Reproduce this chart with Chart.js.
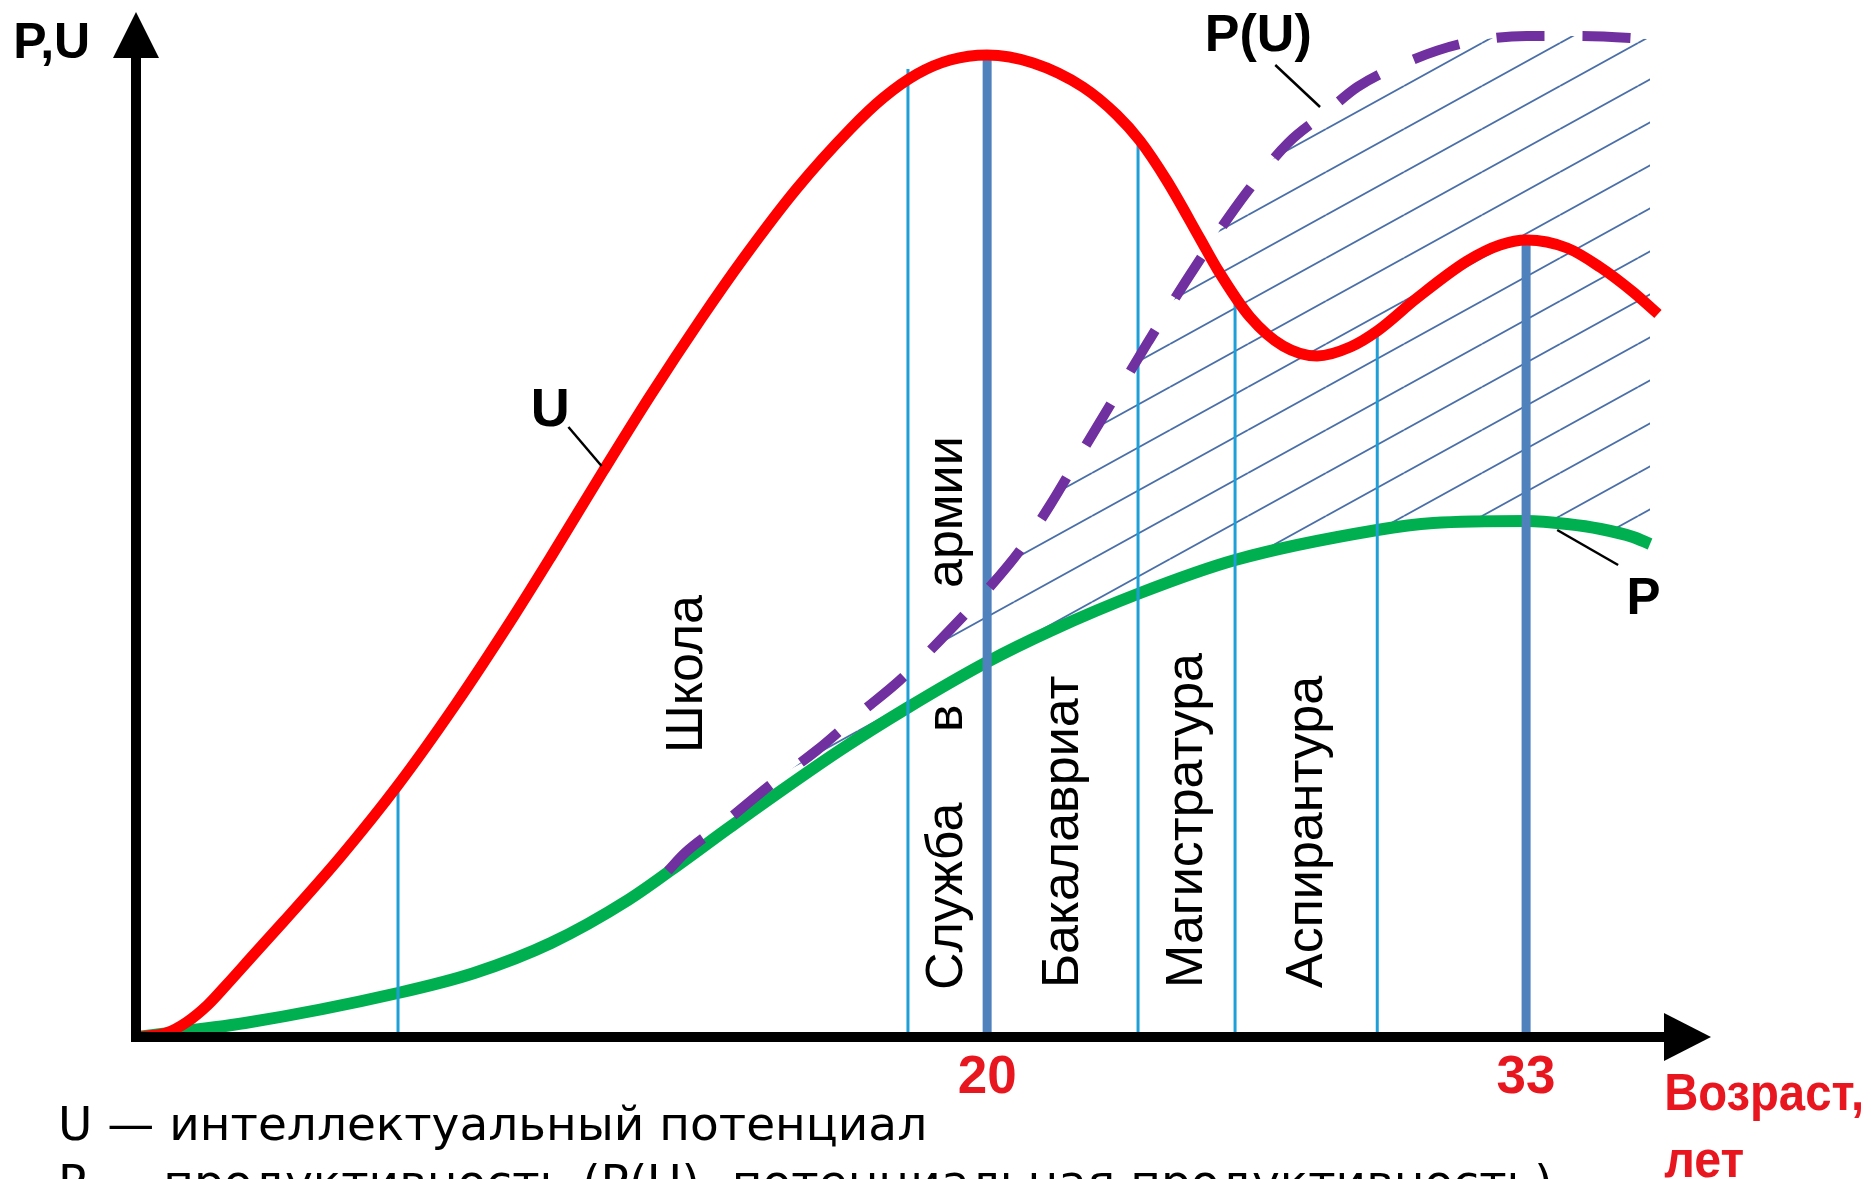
<!DOCTYPE html>
<html>
<head>
<meta charset="utf-8">
<script src="https://cdn.jsdelivr.net/npm/chart.js@4.4.1/dist/chart.umd.min.js"></script>
<style>
  html, body { margin: 0; padding: 0; background: #ffffff; overflow: hidden; }
  #wrap { position: relative; width: 1871px; height: 1179px; }
  #c { position: absolute; left: 0; top: 0; }
  .legend { position: absolute; left: 58px; top: 1095px; font-family: "DejaVu Sans", sans-serif;
            font-size: 47px; line-height: 58px; color: #000; white-space: nowrap; }
</style>
</head>
<body>
<div id="wrap">
  <canvas id="c" width="1871" height="1179"></canvas>
  <div class="legend">U — интеллектуальный потенциал<br>P — продуктивность (P(U)- потенциальная продуктивность)</div>
</div>
<script>
// ---------------- DATA (age in years, relative level) ----------------
const X_MIN = -0.53;
const X_MAX = 37.46;
const Y_MAX = 102.5;

const TICK_AGES = [20, 33];

// U — intellectual potential (red)
const U_AGES   = [-0.53, 0.20, 0.70, 1.20, 1.65, 2.30, 3.02, 4.40, 5.79, 7.17, 8.57, 9.46, 10.74, 11.87, 13.08, 14.11, 15.40, 16.70, 17.49, 18.31, 19.11, 20.00, 21.11, 22.31, 23.13, 23.69, 24.34, 25.14, 25.55, 26.34, 27.14, 27.96, 28.76, 29.41, 30.37, 31.58, 32.37, 33.02, 33.99, 34.78, 35.58, 36.18];
const U_VALUES = [0, 0.4, 1.5, 3.2, 5.2, 8.2, 11.5, 18.0, 25.2, 33.2, 42.0, 47.9, 56.6, 64.1, 71.7, 77.8, 84.8, 90.8, 93.9, 96.3, 97.7, 98.2, 97.4, 95.0, 92.2, 89.6, 85.6, 79.8, 76.8, 72.0, 69.1, 68.1, 69.0, 70.6, 73.9, 77.6, 79.2, 79.7, 78.9, 77.0, 74.5, 72.3];

// P — productivity (green)
const P_AGES   = [-0.53, 2.10, 5.79, 7.63, 9.48, 11.34, 12.71, 13.80, 16.46, 18.07, 20.00, 21.52, 23.69, 25.98, 29.41, 30.76, 33.02, 33.99, 34.80, 35.58, 35.99];
const P_VALUES = [0, 1.4, 4.4, 6.4, 9.4, 13.7, 17.7, 21.0, 28.7, 32.9, 37.5, 40.6, 44.4, 47.7, 50.7, 51.4, 51.6, 51.3, 50.8, 50.0, 49.3];

// P(U) — potential productivity (purple, dashed)
const PU_AGES   = [12.30, 12.71, 13.68, 14.77, 15.90, 16.94, 17.90, 18.94, 20.00, 20.80, 21.52, 22.24, 23.04, 23.88, 25.00, 26.25, 27.26, 28.16, 28.93, 29.96, 31.41, 33.02, 34.23, 36.40];
const PU_VALUES = [16.6, 18.4, 21.5, 25.2, 28.7, 32.4, 35.7, 40.0, 44.7, 48.7, 53.2, 58.2, 63.7, 69.5, 76.9, 84.4, 89.4, 92.4, 95.0, 97.2, 99.3, 100.1, 100.1, 99.7];

// stage boundaries: age and the level where the line meets U
const STAGE_AGES = [5.79, 18.09, 20, 23.64, 25.98, 29.41, 33];
const STAGE_TOPS = [25.2, 96.8, 98.2, 89.8, 73.9, 70.6, 79.7];

// stage names
const STAGE_TEXTS = ['Школа', 'Служба', 'в', 'армии', 'Бакалавриат', 'Магистратура', 'Аспирантура'];

// ---------------- LAYOUT / STYLE (kept apart from data) ----------------
const STAGE_TEXT_POS = [[13.13, 28.4], [19.40, 4.7], [19.40, 30.5], [19.40, 44.9], [22.19, 4.9], [25.18, 4.9], [28.08, 4.9]];

const zip = (xs, ys) => xs.map((x, i) => ({ x: x, y: ys[i] }));

function makeHatch() {
  const W = 78, H = 43;
  const c = document.createElement('canvas');
  c.width = W; c.height = H;
  const g = c.getContext('2d');
  g.strokeStyle = '#4a6fa8';
  g.lineWidth = 1.8;
  for (const k of [0, 1, 2]) {
    g.beginPath();
    g.moveTo(0, k * H);
    g.lineTo(W, (k - 1) * H);
    g.stroke();
  }
  return document.getElementById('c').getContext('2d').createPattern(c, 'repeat');
}

const stageSets = STAGE_AGES.map((a, i) => {
  const major = TICK_AGES.includes(a);
  return {
    label: 'stage' + i,
    data: [{ x: a, y: 0 }, { x: a, y: STAGE_TOPS[i] }],
    borderColor: major ? '#4f81bd' : '#1e9fd8',
    borderWidth: major ? 9 : 3,
    tension: 0,
    fill: false,
    pointRadius: 0,
    order: 3
  };
});

const datasets = [
  { label: 'P', data: zip(P_AGES, P_VALUES), borderColor: '#00b050', borderWidth: 12,
    cubicInterpolationMode: 'monotone', fill: false, pointRadius: 0, order: 4 },
  { label: 'P(U)', data: zip(PU_AGES, PU_VALUES), borderColor: '#7030a0', borderWidth: 10,
    borderDash: [48, 38], cubicInterpolationMode: 'monotone', pointRadius: 0,
    fill: '-1', backgroundColor: makeHatch(), order: 1 },
  { label: 'U', data: zip(U_AGES, U_VALUES), borderColor: '#ff0000', borderWidth: 11,
    cubicInterpolationMode: 'monotone', fill: false, pointRadius: 0, order: 2 }
].concat(stageSets);

const annot = {
  id: 'annot',
  afterDatasetsDraw(chart) {
    const { ctx, chartArea: a, scales: { x, y } } = chart;
    const X = v => x.getPixelForValue(v), Y = v => y.getPixelForValue(v);
    ctx.save();
    const x0 = X(X_MIN), y0 = Y(0);
    // axes
    ctx.strokeStyle = '#000'; ctx.fillStyle = '#000'; ctx.lineWidth = 10; ctx.lineCap = 'butt';
    ctx.beginPath(); ctx.moveTo(x0, y0 + 5); ctx.lineTo(x0, a.top + 44); ctx.stroke();
    ctx.beginPath(); ctx.moveTo(x0 - 5, y0); ctx.lineTo(a.right - 45, y0); ctx.stroke();
    ctx.beginPath(); ctx.moveTo(x0, a.top); ctx.lineTo(x0 - 23, a.top + 46); ctx.lineTo(x0 + 23, a.top + 46); ctx.closePath(); ctx.fill();
    ctx.beginPath(); ctx.moveTo(a.right, y0); ctx.lineTo(a.right - 47, y0 - 24); ctx.lineTo(a.right - 47, y0 + 24); ctx.closePath(); ctx.fill();

    // leader lines
    ctx.lineWidth = 2.5;
    const leaders = [[[9.90, 61.0], [10.70, 57.1]], [[26.95, 97.2], [28.03, 93.0]], [[33.75, 50.7], [35.22, 47.2]]];
    leaders.forEach(([p, q]) => { ctx.beginPath(); ctx.moveTo(X(p[0]), Y(p[1])); ctx.lineTo(X(q[0]), Y(q[1])); ctx.stroke(); });

    // curve labels
    ctx.textBaseline = 'alphabetic';
    ctx.font = 'bold 50px "Liberation Sans", Arial, sans-serif';
    ctx.textAlign = 'left';
    ctx.fillText('P,U', X(-3.49), Y(97.9));
    ctx.textAlign = 'center';
    ctx.font = 'bold 54px "Liberation Sans", Arial, sans-serif';
    ctx.fillText('U', X(9.46), Y(61.1));
    ctx.font = 'bold 52px "Liberation Sans", Arial, sans-serif';
    ctx.fillText('P(U)', X(26.54), Y(98.6));
    ctx.font = 'bold 51px "Liberation Sans", Arial, sans-serif';
    ctx.fillText('P', X(35.83), Y(42.3));

    // axis title
    ctx.fillStyle = '#e8171f';
    ctx.textAlign = 'left';
    ctx.font = 'bold 52px "Liberation Sans", Arial, sans-serif';
    ctx.fillText('Возраст,', X(36.33), Y(-7.3), 200);
    ctx.fillText('лет', X(36.33), Y(-14.0), 80);

    // stage names (rotated)
    ctx.fillStyle = '#000';
    ctx.font = '52px "Liberation Sans", Arial, sans-serif';
    STAGE_TEXTS.forEach((t, i) => {
      const [ax, vy] = STAGE_TEXT_POS[i];
      ctx.save();
      ctx.translate(X(ax), Y(vy));
      ctx.rotate(-Math.PI / 2);
      ctx.textAlign = 'left';
      ctx.textBaseline = 'alphabetic';
      ctx.fillText(t, 0, 0);
      ctx.restore();
    });
    ctx.restore();
  }
};

new Chart(document.getElementById('c'), {
  type: 'line',
  data: { datasets: datasets },
  options: {
    responsive: false,
    animation: false,
    devicePixelRatio: 1,
    layout: { padding: { left: 136, right: 160, top: 12, bottom: 0 }, autoPadding: false },
    plugins: {
      legend: { display: false },
      tooltip: { enabled: false },
      filler: { drawTime: 'beforeDatasetsDraw', propagate: false }
    },
    elements: { point: { radius: 0, hoverRadius: 0 } },
    scales: {
      x: {
        type: 'linear', min: X_MIN, max: X_MAX,
        grid: { display: false, drawTicks: false },
        border: { display: false },
        afterBuildTicks: s => { s.ticks = TICK_AGES.map(v => ({ value: v })); },
        afterFit: s => { s.height = 142; },
        ticks: {
          autoSkip: false, maxRotation: 0, minRotation: 0, padding: 10,
          color: '#e8171f',
          font: { family: '"Liberation Sans", Arial, sans-serif', size: 53, weight: 'bold' },
          callback: v => String(v)
        }
      },
      y: { type: 'linear', min: 0, max: Y_MAX, display: false }
    }
  },
  plugins: [annot]
});
</script>
</body>
</html>
